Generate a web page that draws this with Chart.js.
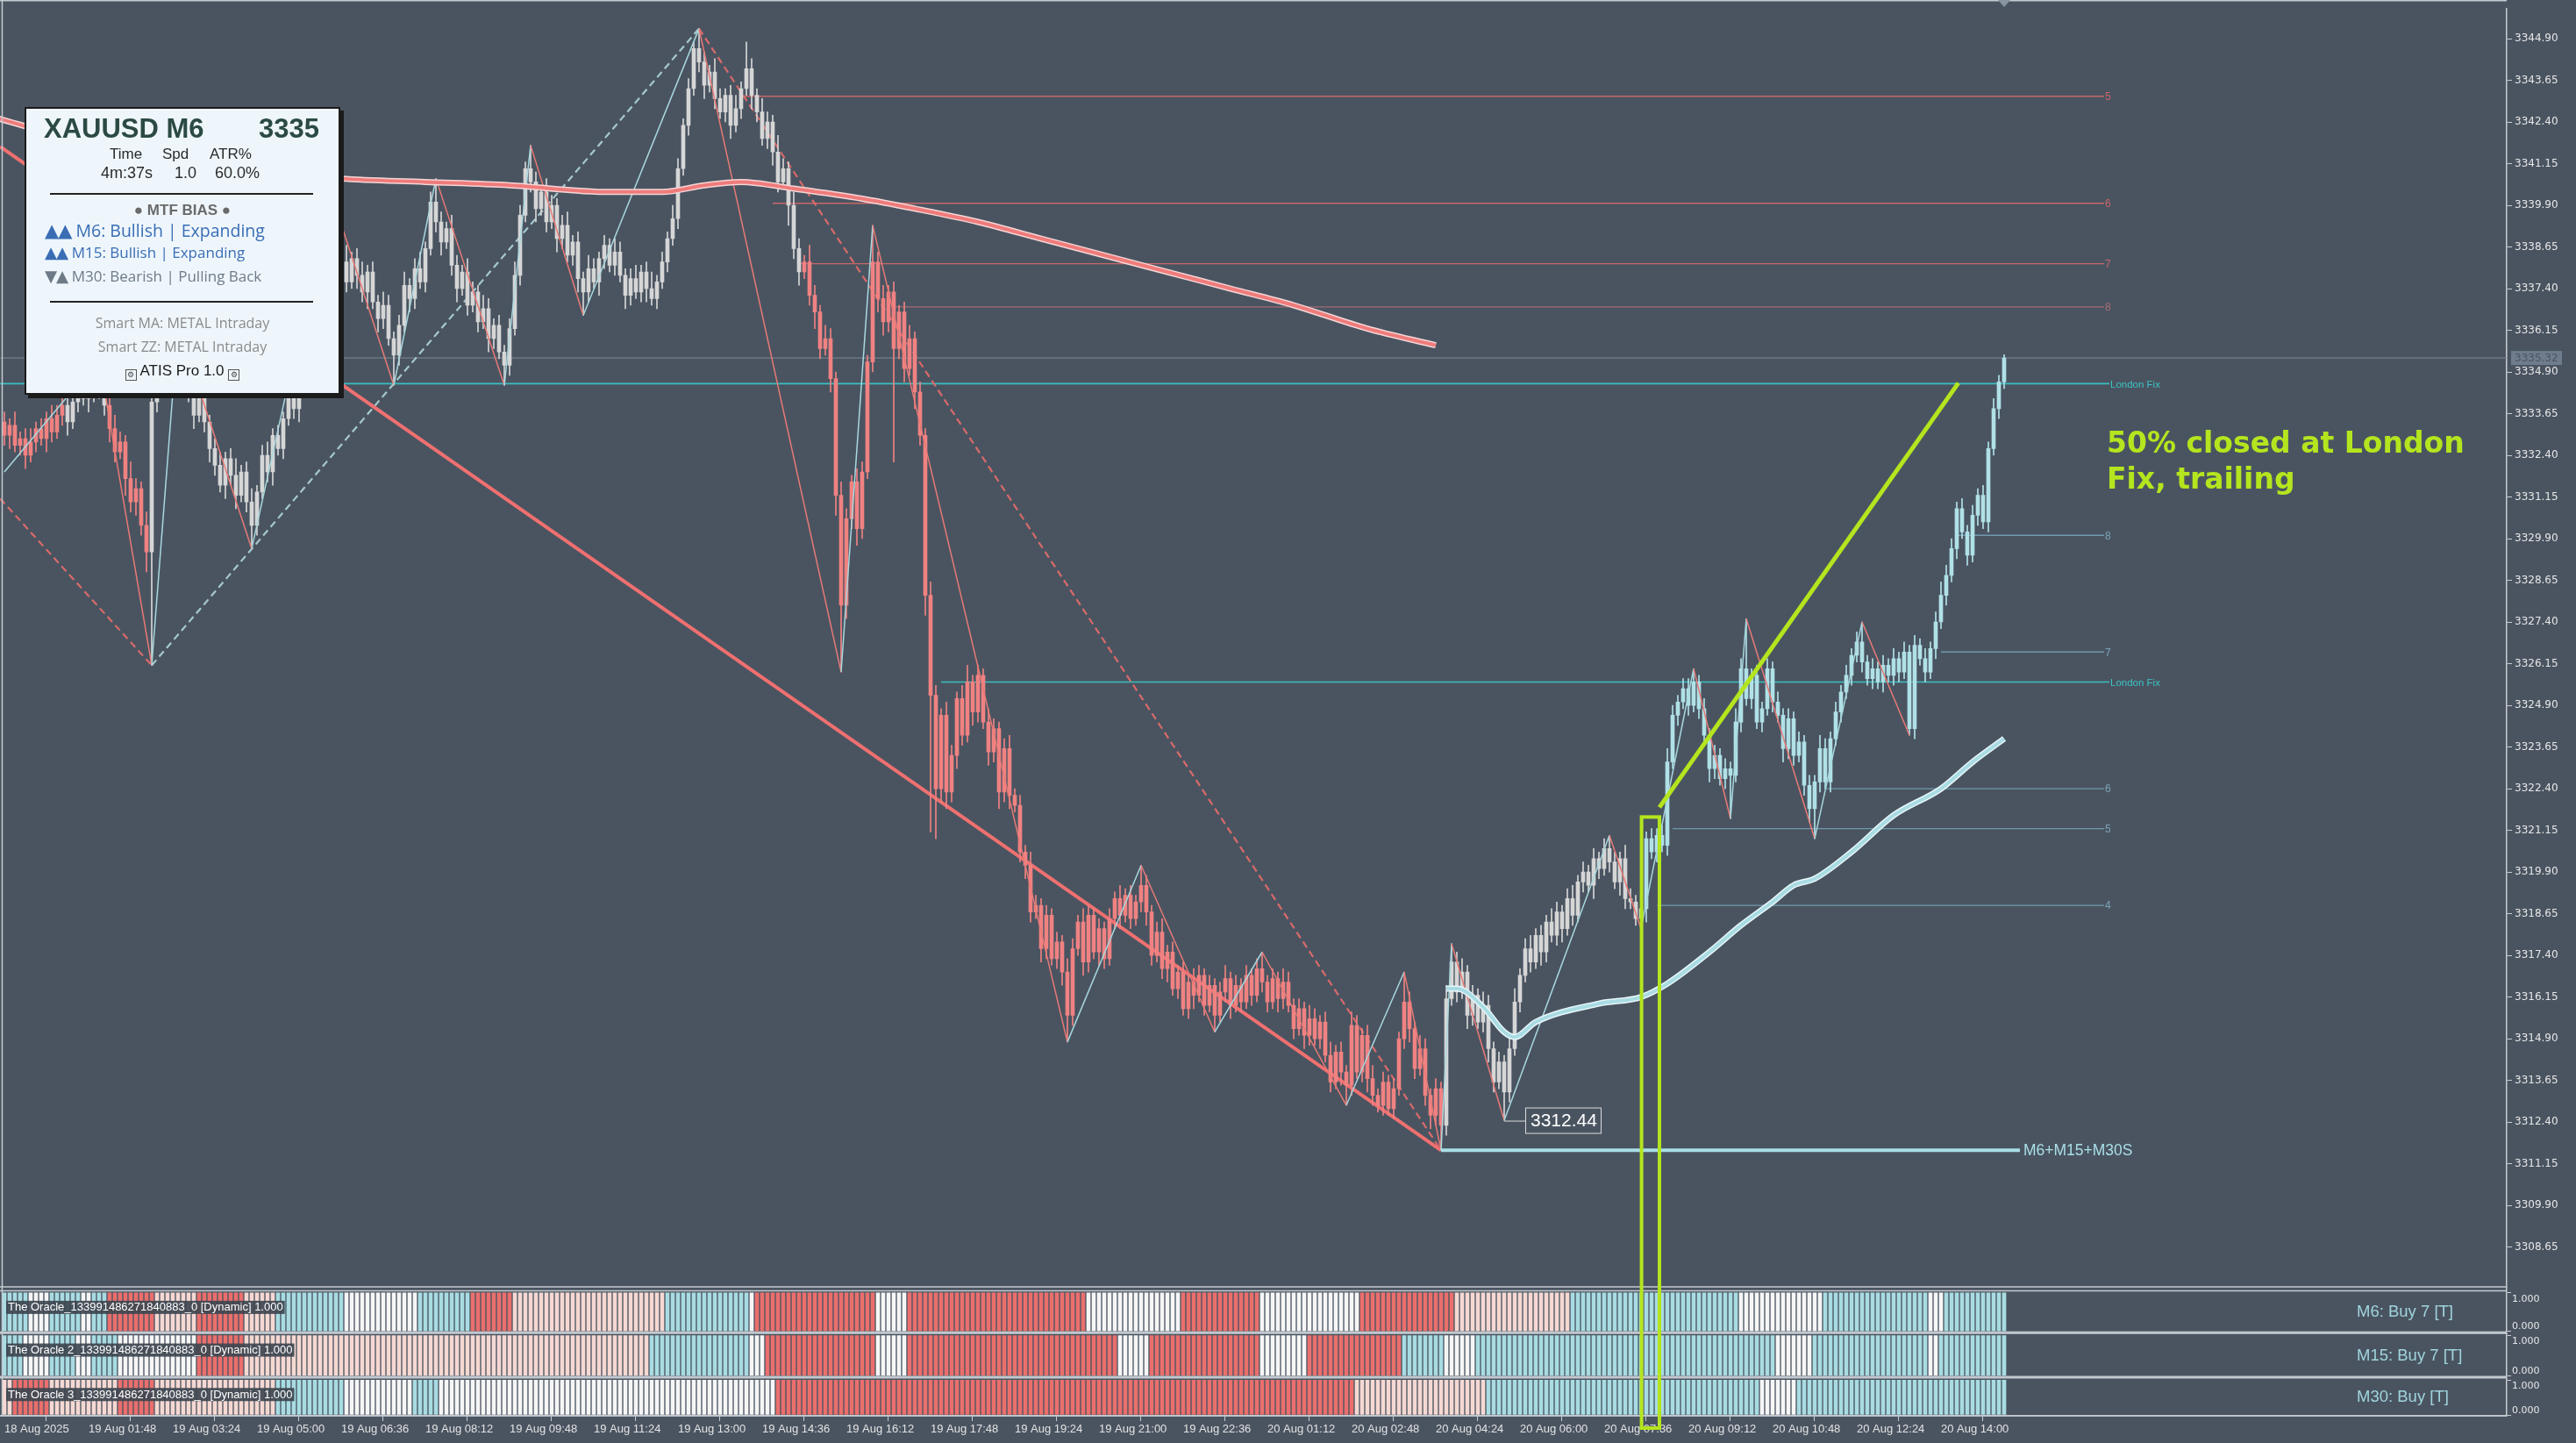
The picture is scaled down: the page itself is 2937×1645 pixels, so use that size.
<!DOCTYPE html>
<html>
<head>
<meta charset="utf-8">
<script src="https://cdn.jsdelivr.net/npm/chart.js@4.4.1/dist/chart.umd.min.js"></script>
<style>
  html, body { margin: 0; padding: 0; background: #4a5461; }
  #wrap { position: relative; width: 2937px; height: 1645px; overflow: hidden; background: #4a5461; }
  #myChart { position: absolute; left: 0; top: 0; }
  #info { position: absolute; left: 28px; top: 122px; width: 360px; height: 328px; box-sizing: border-box;
          background: #eef6fc; border: 2px solid #1b1b1b; box-shadow: 4px 4px 0 #1b1b1b;
          font-family: "Liberation Sans", Arial, sans-serif; }
  #info .ln { position: absolute; white-space: nowrap; line-height: 1; }
  #info .rule { position: absolute; left: 27px; width: 300px; height: 2px; background: #222; }
  #info .c { left: 0; width: 100%; text-align: center; }
  #info .os { font-family: "Open Sans", "Noto Sans", sans-serif; }
  #info .tri { font-family: "DejaVu Sans", sans-serif; font-size: 1.08em; letter-spacing: -1px; }
  .gear { display: inline-block; width: 11px; height: 11px; border: 1px solid #555; font-size: 9px; line-height: 11px;
          text-align: center; vertical-align: -2px; color: #444; }
  #note { position: absolute; left: 2402px; top: 484px; font-family: "DejaVu Sans", sans-serif; font-weight: bold;
          font-size: 33px; line-height: 41px; color: #b4e51e; white-space: nowrap; }
</style>
</head>
<body>
<div id="wrap">
<canvas id="myChart" width="2937" height="1645"></canvas>

<div id="info">
  <div class="ln" style="left:20px; top:7px; font-size:31px; font-weight:bold; color:#2c4a44;">XAUUSD M6</div>
  <div class="ln" style="right:22px; top:7px; font-size:31px; font-weight:bold; color:#2c4a44;">3335</div>
  <div class="ln" style="left:95px; top:43px; font-size:17px; color:#2a2a2a;">Time</div>
  <div class="ln" style="left:155px; top:43px; font-size:17px; color:#2a2a2a;">Spd</div>
  <div class="ln" style="left:209px; top:43px; font-size:17px; color:#2a2a2a;">ATR%</div>
  <div class="ln" style="left:85px; top:64px; font-size:18px; color:#2a2a2a;">4m:37s</div>
  <div class="ln" style="left:169px; top:64px; font-size:18px; color:#2a2a2a;">1.0</div>
  <div class="ln" style="left:215px; top:64px; font-size:18px; color:#2a2a2a;">60.0%</div>
  <div class="rule" style="top:96px;"></div>
  <div class="ln c" style="top:107px; font-size:17px; font-weight:bold; color:#6a6a6a;">&#9679; MTF BIAS &#9679;</div>
  <div class="ln os" style="left:21px; top:128px; font-size:19.5px; color:#3a6db4;"><span class="tri">&#9650;&#9650;</span> M6: Bullish | Expanding</div>
  <div class="ln os" style="left:21px; top:155px; font-size:17px; color:#3a6db4;"><span class="tri">&#9650;&#9650;</span> M15: Bullish | Expanding</div>
  <div class="ln os" style="left:21px; top:182px; font-size:17px; color:#6e7a86;"><span class="tri">&#9660;&#9650;</span> M30: Bearish | Pulling Back</div>
  <div class="rule" style="top:219px;"></div>
  <div class="ln c os" style="top:236px; font-size:16px; color:#8a8a8a;">Smart MA: METAL Intraday</div>
  <div class="ln c os" style="top:263px; font-size:16px; color:#8a8a8a;">Smart ZZ: METAL Intraday</div>
  <div class="ln c" style="top:290px; font-size:17px; color:#1a1a1a;"><span class="gear">&#9881;</span> ATIS Pro 1.0 <span class="gear">&#9881;</span></div>
</div>

<div id="note">50% closed at London<br>Fix, trailing</div>
</div>

<script>
// ---- data (bar index = one 6-minute candle) ----
const firstOpen = 3333.4;
const closes = [
  3333.0, 3333.3, 3332.7, 3332.9, 3332.4, 3332.8, 3333.2, 3332.9, 3333.5, 3333.1,
  3333.6, 3333.9, 3333.4, 3334.0, 3334.4, 3334.1, 3334.6, 3334.3, 3334.8, 3333.9,
  3333.2, 3332.5, 3332.8, 3331.7, 3331.0, 3331.4, 3330.3, 3329.5, 3334.0, 3334.6,
  3335.2, 3334.8, 3335.5, 3336.1, 3335.6, 3334.3, 3333.6, 3334.2, 3333.4, 3332.6,
  3332.1, 3331.5, 3332.3, 3331.8, 3331.2, 3331.9, 3331.0, 3330.3, 3331.3, 3332.4,
  3331.9, 3333.0, 3332.6, 3333.5, 3334.2, 3333.8, 3334.6, 3335.3, 3336.0, 3337.1,
  3338.4, 3339.5, 3339.9, 3338.7, 3338.2, 3337.6, 3338.3, 3337.8, 3337.3, 3337.9,
  3337.0, 3336.5, 3336.9, 3335.9, 3335.4, 3336.3, 3337.5, 3337.1, 3338.0, 3337.6,
  3338.6, 3340.0, 3339.4, 3338.8, 3339.2, 3338.1, 3337.4, 3337.9, 3336.9, 3337.3,
  3336.4, 3336.8, 3335.9, 3336.3, 3335.5, 3335.1, 3336.2, 3337.8, 3339.6, 3341.0,
  3340.6, 3339.8, 3340.3, 3339.4, 3339.9, 3338.9, 3339.3, 3338.4, 3338.8, 3337.7,
  3337.3, 3338.0, 3337.6, 3338.3, 3338.7, 3338.1, 3338.5, 3337.8, 3337.2, 3337.7,
  3337.3, 3337.9, 3337.4, 3337.1, 3337.6, 3338.2, 3338.9, 3339.5, 3341.0, 3342.3,
  3343.4, 3344.6, 3344.2, 3343.5, 3343.9, 3343.1, 3342.7, 3343.2, 3342.3, 3342.8,
  3343.4, 3344.0, 3343.2, 3342.7, 3341.9, 3342.4, 3341.5, 3340.6, 3341.0, 3339.9,
  3338.6, 3337.9, 3338.2, 3337.2, 3336.7, 3335.6, 3335.9, 3334.7, 3331.2, 3327.9,
  3330.5, 3331.6, 3330.2, 3331.9, 3335.2, 3338.2, 3337.1, 3336.4, 3337.3, 3335.6,
  3336.7, 3335.0, 3335.9, 3334.3, 3333.0, 3328.2, 3325.2, 3322.4, 3324.6, 3322.3,
  3323.4, 3325.1, 3324.0, 3325.6, 3324.7, 3325.8, 3324.4, 3323.5, 3324.2, 3322.3,
  3323.6, 3322.2, 3321.9, 3320.5, 3320.1, 3318.7, 3318.9, 3317.6, 3318.6, 3317.3,
  3317.8, 3316.9, 3315.6, 3317.6, 3318.4, 3317.2, 3318.6, 3317.5, 3318.2, 3317.3,
  3318.5, 3319.1, 3318.6, 3319.2, 3318.5, 3319.0, 3319.5, 3318.7, 3317.4, 3318.1,
  3317.0, 3317.5, 3316.4, 3316.9, 3315.8, 3316.6, 3316.2, 3316.8, 3315.9, 3316.5,
  3315.6, 3316.3, 3316.7, 3315.9, 3316.5, 3316.0, 3316.8, 3316.2, 3317.0, 3316.6,
  3316.0, 3316.7, 3316.1, 3316.6, 3315.9, 3315.2, 3315.8, 3315.0, 3315.5, 3314.9,
  3315.4, 3314.4, 3313.6, 3314.5, 3313.9, 3313.5, 3315.3, 3313.9, 3315.0, 3313.7,
  3313.2, 3312.9, 3313.6, 3312.8, 3313.4, 3314.9, 3316.0, 3315.2, 3314.0, 3314.6,
  3313.2, 3312.6, 3313.4, 3312.3, 3316.1, 3317.2, 3316.3, 3316.9, 3315.6, 3316.2,
  3315.4, 3315.9, 3314.6, 3313.6, 3314.2, 3313.3, 3314.6, 3316.0, 3316.8, 3317.6,
  3317.2, 3318.0, 3317.5, 3318.4, 3318.0, 3318.7, 3318.2, 3319.1, 3318.6, 3319.6,
  3319.9, 3319.5, 3320.3, 3320.0, 3320.6, 3320.2, 3319.6, 3320.3, 3319.1, 3319.0,
  3318.5, 3318.8, 3320.9, 3320.5, 3321.0, 3320.7, 3323.2, 3324.6, 3325.0, 3325.4,
  3324.9, 3325.6, 3324.8, 3324.0, 3323.0, 3323.4, 3322.7, 3323.0, 3322.8, 3324.4,
  3326.0, 3325.1, 3325.8, 3324.4, 3324.8, 3326.0, 3325.0, 3324.6, 3323.6, 3324.5,
  3323.4, 3323.8, 3322.5, 3321.8, 3322.6, 3323.6, 3322.6, 3323.9, 3324.7, 3325.3,
  3325.8, 3326.4, 3326.8, 3326.2, 3325.7, 3326.0, 3325.6, 3326.1, 3325.8, 3326.3,
  3325.9, 3326.5, 3324.2, 3326.7, 3326.3, 3325.9, 3326.6, 3327.4, 3328.2, 3328.8,
  3329.6, 3330.8, 3330.1, 3329.4, 3330.6, 3331.2, 3330.4, 3332.6, 3333.8, 3334.6,
  3335.32
];
const wickUp = [
  0.3,0.2,0.4,0.2,0.3,0.4,0.2,0.3,0.2,0.4, 0.3,0.2,0.4,0.3,0.2,0.3,0.2,0.3,0.5,0.3,
  0.2,0.4,0.3,0.2,0.5,0.3,0.2,0.4,0.3,0.4, 0.2,0.3,0.3,0.2,0.1,0.4,0.3,0.2,0.3,0.2,
  0.3,0.4,0.2,0.3,0.5,0.2,0.3,0.4,0.2,0.3, 0.4,0.2,0.3,0.2,0.4,0.3,0.2,0.3,0.4,0.2,
  0.3,0.3,0.4,0.2,0.3,0.5,0.2,0.3,0.4,0.2, 0.3,0.2,0.4,0.3,0.2,0.3,0.4,0.2,0.3,0.5,
  0.2,0.3,0.7,0.3,0.2,0.4,0.3,0.2,0.4,0.3, 0.2,0.4,0.3,0.2,0.3,0.2,0.3,0.4,0.3,0.2,
  0.7,0.3,0.2,0.4,0.3,0.2,0.3,0.4,0.2,0.3, 0.2,0.4,0.3,0.2,0.3,0.2,0.4,0.3,0.2,0.3,
  0.4,0.2,0.3,0.5,0.2,0.3,0.2,0.4,0.3,0.2, 0.3,0.2,0.6,0.3,0.2,0.4,0.3,0.2,0.3,0.4,
  0.2,0.8,0.3,0.2,0.4,0.3,0.2,0.5,0.3,0.2, 0.4,0.3,0.2,0.5,0.3,0.2,0.4,0.3,0.2,0.4,
  0.3,0.2,0.4,0.3,0.2,1.1,0.3,0.4,0.2,0.3, 0.2,0.3,0.4,0.2,0.3,0.2,0.4,0.3,0.2,0.4,
  0.3,0.2,0.4,0.5,0.2,0.3,0.2,0.4,0.3,0.2, 0.3,0.4,0.2,0.3,0.2,0.4,0.3,0.2,0.3,0.2,
  0.3,0.2,0.4,0.3,0.2,0.4,0.3,0.2,0.3,0.2, 0.3,0.2,0.4,0.2,0.3,0.2,0.6,0.3,0.2,0.3,
  0.4,0.2,0.3,0.2,0.3,0.2,0.4,0.3,0.2,0.3, 0.2,0.3,0.4,0.2,0.3,0.2,0.3,0.2,0.3,0.5,
  0.2,0.3,0.2,0.4,0.3,0.2,0.3,0.2,0.4,0.3, 0.2,0.3,0.4,0.2,0.3,0.2,0.4,0.3,0.2,0.3,
  0.4,0.2,0.3,0.2,0.3,0.2,0.9,0.3,0.2,0.4, 0.3,0.2,0.3,0.2,0.4,0.55,0.3,0.4,0.2,0.3,
  0.2,0.4,0.3,0.2,0.3,0.2,0.3,0.4,0.2,0.3, 0.4,0.2,0.3,0.2,0.4,0.3,0.2,0.3,0.4,0.2,
  0.3,0.2,0.3,0.2,0.3,0.4,0.3,0.2,0.4,0.3, 0.2,0.3,0.2,0.3,0.2,0.3,0.4,0.3,0.2,0.3,
  0.3,0.4,0.2,0.3,0.2,0.3,0.2,0.3,0.2,0.4, 0.3,1.5,0.2,0.3,0.2,0.3,0.2,0.3,0.2,0.3,
  0.2,0.3,0.2,0.3,0.2,0.4,0.3,0.2,0.3,0.2, 0.3,0.2,0.3,0.6,0.2,0.3,0.2,0.3,0.2,0.3,
  0.2,0.3,0.2,0.3,0.2,0.3,0.2,0.3,0.4,0.3, 0.3,0.2,0.3,0.2,0.3,0.2,0.3,0.2,0.3,0.2,
  0.1
];
const wickDn = [
  0.3,0.4,0.2,0.3,0.4,0.2,0.3,0.2,0.4,0.3, 0.2,0.3,0.4,0.2,0.3,0.2,0.4,0.3,0.2,0.3,
  0.4,0.3,0.2,0.5,0.3,0.4,0.3,0.6,3.4,0.3, 0.3,0.2,0.3,0.4,0.2,0.3,0.4,0.2,0.3,0.4,
  0.3,0.2,0.4,0.3,0.4,0.2,0.3,0.7,0.3,0.2, 0.3,0.4,0.2,0.3,0.2,0.3,0.4,0.2,0.3,0.2,
  0.3,0.2,0.3,0.4,0.6,0.3,0.2,0.4,0.3,0.5, 0.2,0.4,0.3,0.2,0.9,0.3,0.2,0.4,0.3,0.2,
  0.3,0.2,0.3,0.4,0.2,0.3,0.4,0.2,0.3,0.2, 0.3,0.2,0.4,0.3,0.2,0.6,0.3,0.2,0.3,0.2,
  0.3,0.4,0.2,0.3,0.2,0.4,0.3,0.2,0.3,0.4, 0.7,0.3,0.2,0.4,0.3,0.2,0.3,0.2,0.4,0.3,
  0.2,0.3,0.4,0.2,0.3,0.2,0.3,0.2,0.3,0.2, 0.3,0.2,0.3,0.4,0.2,0.3,0.2,0.3,0.4,0.2,
  0.3,0.2,0.4,0.3,0.2,0.3,0.4,0.3,0.2,0.6, 0.3,0.4,0.2,0.3,0.5,0.3,0.2,0.4,0.6,2.0,
  0.4,0.3,0.5,0.3,0.2,0.3,0.4,0.4,0.3,3.4, 0.3,0.4,0.2,0.5,0.3,0.6,4.1,1.5,0.4,0.5,
  0.3,0.4,0.3,0.2,0.4,0.3,0.2,0.4,0.3,0.5, 0.3,0.4,0.2,0.3,0.4,0.3,0.2,0.4,0.3,0.2,
  0.3,0.4,0.8,0.3,0.2,0.4,0.3,0.2,0.4,0.3, 0.2,0.3,0.4,0.2,0.3,0.2,0.3,0.4,0.3,0.2,
  0.3,0.4,0.2,0.3,0.2,0.3,0.4,0.2,0.3,0.2, 0.5,0.2,0.3,0.4,0.2,0.3,0.2,0.3,0.2,0.3,
  0.3,0.2,0.4,0.3,0.2,0.3,0.2,0.4,0.3,0.2, 0.3,0.2,0.3,0.2,0.4,0.6,0.3,0.2,0.3,0.4,
  0.3,0.2,0.3,0.2,0.3,0.2,0.3,0.4,0.3,0.2, 0.3,0.4,0.3,0.75,0.3,0.2,0.3,0.2,0.4,0.3,
  0.2,0.3,0.4,0.3,0.2,0.85,0.3,0.2,0.3,0.2, 0.3,0.2,0.4,0.3,0.2,0.3,0.4,0.2,0.3,0.2,
  0.3,0.2,0.4,0.3,0.2,0.3,0.2,0.4,0.3,0.2, 0.2,0.3,0.4,0.2,0.3,0.2,0.3,0.2,0.3,0.2,
  0.3,0.2,0.3,0.2,0.4,0.3,0.2,0.3,1.3,0.2, 0.3,0.2,0.3,0.2,0.3,0.2,0.3,0.2,0.4,0.3,
  0.3,0.2,0.3,0.4,0.9,0.3,0.2,0.3,0.2,0.3, 0.2,0.3,0.2,0.3,0.2,0.3,0.2,0.3,0.2,0.3,
  0.3,0.2,0.2,0.3,0.2,0.3,0.2,0.3,0.2,0.3, 0.2,0.3,0.2,0.3,0.2,0.3,0.2,0.3,0.2,0.3,
  0.2
];
// candle colour regime: R red, W grey, B light blue  [count, code]
const candleRuns = [[12,'R'],[8,'W'],[8,'R'],[124,'W'],[122,'R'],[38,'W'],[69,'B']];
// indicator panels: R red, P pale, W white, B blue
const oracle1Runs = [[5,'B'],[4,'W'],[6,'B'],[2,'W'],[3,'B'],[9,'R'],[8,'P'],[9,'R'],[6,'P'],[13,'B'],[14,'W'],[10,'B'],
  [8,'R'],[29,'P'],[16,'B'],[1,'W'],[23,'R'],[6,'W'],[34,'R'],[18,'W'],[15,'R'],[19,'W'],[18,'R'],[22,'P'],[32,'B'],
  [16,'W'],[20,'B'],[3,'W'],[12,'B']];
const oracle2Runs = [[4,'B'],[5,'W'],[5,'B'],[3,'W'],[5,'B'],[15,'W'],[9,'R'],[77,'P'],[19,'B'],[3,'W'],[21,'R'],[6,'W'],
  [40,'R'],[6,'W'],[21,'R'],[9,'W'],[18,'R'],[8,'B'],[6,'W'],[9,'B'],[48,'B'],[7,'W'],[22,'B'],[2,'W'],[13,'B']];
const oracle3Runs = [[2,'P'],[7,'R'],[13,'P'],[7,'R'],[23,'P'],[13,'B'],[13,'W'],[5,'B'],[64,'W'],[110,'R'],[25,'P'],
  [52,'B'],[7,'W'],[40,'B']];
const oracleNames = ['The Oracle_133991486271840883_0 [Dynamic] 1.000', 'The Oracle 2_133991486271840883_0 [Dynamic] 1.000',
  'The Oracle 3_133991486271840883_0 [Dynamic] 1.000'];
const oracleSignals = ['M6: Buy 7 [T]', 'M15: Buy 7 [T]', 'M30: Buy [T]'];
const paneTickLabels = ['1.000', '0.000'];

const timeLabels = ['18 Aug 2025','19 Aug 01:48','19 Aug 03:24','19 Aug 05:00','19 Aug 06:36','19 Aug 08:12',
  '19 Aug 09:48','19 Aug 11:24','19 Aug 13:00','19 Aug 14:36','19 Aug 16:12','19 Aug 17:48','19 Aug 19:24',
  '19 Aug 21:00','19 Aug 22:36','20 Aug 01:12','20 Aug 02:48','20 Aug 04:24','20 Aug 06:00','20 Aug 07:36',
  '20 Aug 09:12','20 Aug 10:48','20 Aug 12:24','20 Aug 14:00'];
const priceTicks = [3308.65, 3309.90, 3311.15, 3312.40, 3313.65, 3314.90, 3316.15, 3317.40, 3318.65, 3319.90,
  3321.15, 3322.40, 3323.65, 3324.90, 3326.15, 3327.40, 3328.65, 3329.90, 3331.15, 3332.40, 3333.65, 3334.90,
  3336.15, 3337.40, 3338.65, 3339.90, 3341.15, 3342.40, 3343.65, 3344.90];

// zigzag pivots [bar, price]
const zzPivots = [[0,3331.9],[18,3335.3],[28,3326.1],[33,3336.3],[47,3329.6],[62,3340.3],[74,3334.5],[82,3340.7],
  [95,3334.5],[100,3341.7],[110,3336.6],[132,3345.2],[159,3325.9],[165,3339.3],[202,3314.8],[216,3320.1],
  [230,3315.1],[239,3317.5],[255,3312.9],[266,3316.9],[273,3311.55],[275,3317.75],[285,3312.45],[305,3321.0],
  [311,3318.2],[321,3326.0],[328,3321.5],[331,3327.5],[344,3320.9],[353,3327.4],[362,3324.0]];
const zzSlowPivots = [[-0.8,3331.1],[28,3326.1],[132,3345.2],[273,3311.55]];
const trendLine = [[-0.8,3341.66],[273,3311.55]];
const redMA = [[-1,3342.5],[10,3342.0],[25,3341.4],[45,3341.0],[64,3340.7],[80,3340.6],[96,3340.5],[115,3340.3],
  [125,3340.3],[133,3340.5],[140,3340.6],[150,3340.4],[163,3340.1],[173,3339.8],[185,3339.4],[197,3338.9],
  [209,3338.4],[221,3337.9],[233,3337.4],[245,3336.9],[259,3336.2],[272,3335.7]];
const blueMA = [[274,3316.4],[276,3316.4],[281,3315.85],[285,3315.1],[287,3314.95],[291,3315.4],[303,3315.95],
  [311,3316.15],[316,3316.55],[324,3317.5],[330,3318.3],[336,3319.0],[340,3319.5],[344,3319.7],[351,3320.5],
  [359,3321.6],[368,3322.4],[374,3323.2],[380,3323.9]];

// horizontal levels [price, first bar]
const redLevels = [[3343.17,140],[3339.96,146],[3338.15,151],[3336.85,169]];
const redLevelNames = ['5','6','7','8'];
const blueLevels = [[3330.0,371],[3326.5,368],[3322.4,346],[3321.2,317],[3318.9,314]];
const blueLevelNames = ['8','7','6','5','4'];
const londonFix = [[3334.55,-0.83],[3325.6,178]];
const levelEnd = 399;
const lastPrice = 3335.32;
const sweepLine = [[273,3311.55],[383,3311.55]];
const swingLow = [285, 3312.44];
const tradeLine = [[314.5,3321.84],[371.3,3334.57]];
const entryBox = [311.1, 314.5, 3321.55];

// ---- build ----
const expandRuns = runs => { let out = []; runs.forEach(r => { for (let k = 0; k < r[0]; k++) out.push(r[1]); }); return out; };
const candleCol = { R: '#f08282', W: '#d6d6d6', B: '#b0e1e7' };
const oracleCol = { R: '#ea6f6d', P: '#f6d8d2', W: '#f6f6f6', B: '#a8dce2' };
const candleCodes = expandRuns(candleRuns);
const opens = closes.map((c, i) => i ? closes[i - 1] : firstOpen);

const bodies = closes.map((c, i) => ({ x: i, y: [opens[i], c] }));
const wicks = closes.map((c, i) => ({ x: i, y: [Math.min(opens[i], c) - wickDn[i], Math.max(opens[i], c) + wickUp[i]] }));
const barColors = candleCodes.map(k => candleCol[k]);
const pts = arr => arr.map(p => ({ x: p[0], y: p[1] }));

const lineDs = (data, color, width, order, extra) => Object.assign({
  type: 'line', data: data, borderColor: color, borderWidth: width, pointRadius: 0, tension: 0,
  fill: false, yAxisID: 'y', order: order
}, extra || {});

let datasets = [];
datasets.push(lineDs(pts([[-0.83, lastPrice], [475.5, lastPrice]]), '#7f8b97', 1, 30));
redLevels.forEach((l, k) => datasets.push(lineDs(pts([[l[1], l[0]], [levelEnd, l[0]]]), k == 3 ? '#a06a72' : '#c86666', 1.3, 29)));
blueLevels.forEach(l => datasets.push(lineDs(pts([[l[1], l[0]], [levelEnd, l[0]]]), '#6f98ad', 1.3, 29)));
londonFix.forEach(l => datasets.push(lineDs(pts([[l[1], l[0]], [levelEnd + 1, l[0]]]), '#3bbfc0', 1.6, 29)));
datasets.push(lineDs(pts(zzSlowPivots), '#d86a6a', 2.2, 28, {
  borderDash: [8, 5],
  segment: { borderColor: c => c.p1.parsed.y > c.p0.parsed.y ? '#a5c9cd' : '#d86a6a' }
}));
datasets.push(lineDs(pts(trendLine), '#f07070', 4, 27));

[oracle1Runs, oracle2Runs, oracle3Runs].forEach((runs, k) => {
  datasets.push({
    type: 'bar', yAxisID: 'o' + (k + 1), order: 26, grouped: false, barThickness: 4, borderWidth: 0,
    data: closes.map((c, i) => ({ x: i, y: [0, 1] })),
    backgroundColor: expandRuns(runs).map(c => oracleCol[c])
  });
});

datasets.push({ type: 'bar', yAxisID: 'y', order: 25, grouped: false, barThickness: 1, borderWidth: 0, data: wicks, backgroundColor: barColors });
datasets.push({ type: 'bar', yAxisID: 'y', order: 24, grouped: false, barThickness: 4, borderWidth: 0, minBarLength: 1, data: bodies, backgroundColor: barColors });

datasets.push(lineDs(pts(zzPivots), '#e87a76', 1.5, 20, {
  segment: { borderColor: c => c.p1.parsed.y > c.p0.parsed.y ? '#a8d8de' : '#e87a76' }
}));
datasets.push(lineDs(pts(redMA), '#f5d6d6', 7, 15, { cubicInterpolationMode: 'monotone' }));
datasets.push(lineDs(pts(redMA), '#ef7b7b', 4, 14, { cubicInterpolationMode: 'monotone' }));
datasets.push(lineDs(pts(blueMA), '#e6f6f8', 7, 15, { cubicInterpolationMode: 'monotone' }));
datasets.push(lineDs(pts(blueMA), '#a9dbe3', 4, 14, { cubicInterpolationMode: 'monotone' }));
datasets.push(lineDs(pts(sweepLine), '#a9dfe6', 4, 10));
datasets.push(lineDs(pts(tradeLine), '#b4e51e', 5, 5));

const lime = '#b4e51e';
const narrow = '"Liberation Sans Narrow", "Liberation Sans"';
const overlay = {
  id: 'overlay',
  afterDraw(chart) {
    const ctx = chart.ctx, xs = chart.scales.x, ys = chart.scales.y, area = chart.chartArea;
    const X = v => xs.getPixelForValue(v), Y = v => ys.getPixelForValue(v);
    ctx.save();
    // pane frames
    ctx.strokeStyle = '#c3c9cf'; ctx.lineWidth = 1.5;
    ctx.beginPath();
    ctx.moveTo(0, 0.75); ctx.lineTo(area.right, 0.75);
    ctx.moveTo(2.5, 0); ctx.lineTo(2.5, area.bottom);
    ctx.moveTo(0, ys.bottom - 1); ctx.lineTo(area.right, ys.bottom - 1);
    ['o1', 'o2', 'o3'].forEach(id => {
      const s = chart.scales[id];
      ctx.moveTo(0, s.getPixelForValue(1) - 2.5); ctx.lineTo(area.right, s.getPixelForValue(1) - 2.5);
      ctx.moveTo(0, s.getPixelForValue(0) + 1); ctx.lineTo(area.right, s.getPixelForValue(0) + 1);
    });
    ctx.stroke();

    // level labels
    ctx.textBaseline = 'middle'; ctx.textAlign = 'left';
    ctx.font = '12px "Liberation Sans"';
    redLevels.forEach((l, k) => { ctx.fillStyle = k == 3 ? '#a86f78' : '#c86666'; ctx.fillText(redLevelNames[k], X(levelEnd) + 1, Y(l[0]) + 1); });
    blueLevels.forEach((l, k) => { ctx.fillStyle = '#7ba3b7'; ctx.fillText(blueLevelNames[k], X(levelEnd) + 1, Y(l[0]) + 1); });
    ctx.font = '11.5px "Liberation Sans"'; ctx.fillStyle = '#3cc2c2';
    londonFix.forEach(l => ctx.fillText('London Fix', X(levelEnd + 1) + 1, Y(l[0]) + 1));

    // sweep label
    ctx.font = '17.5px ' + narrow; ctx.fillStyle = '#a9dfe6';
    ctx.fillText('M6+M15+M30S', X(sweepLine[1][0]) + 4, Y(sweepLine[1][1]) + 1);

    // swing low label
    const sx = X(swingLow[0]), sy = Y(swingLow[1]);
    ctx.strokeStyle = '#dcdcdc'; ctx.lineWidth = 1;
    ctx.beginPath(); ctx.moveTo(sx, sy + 0.5); ctx.lineTo(sx + 24, sy + 0.5); ctx.stroke();
    ctx.strokeRect(sx + 24.5, sy - 14.5, 86, 29);
    ctx.fillStyle = '#ffffff'; ctx.font = '21px ' + narrow;
    ctx.fillText(swingLow[1].toFixed(2), sx + 30, sy + 1);

    // indicator captions and pane scale labels
    ['o1', 'o2', 'o3'].forEach((id, k) => {
      const s = chart.scales[id];
      const top = s.getPixelForValue(1), bot = s.getPixelForValue(0), mid = (top + bot) / 2;
      ctx.font = '13px ' + narrow;
      const w = ctx.measureText(oracleNames[k]).width;
      ctx.fillStyle = 'rgba(62,70,80,0.92)';
      ctx.fillRect(7, top + 9, w + 4, 15);
      ctx.fillStyle = '#ffffff'; ctx.textBaseline = 'middle';
      ctx.fillText(oracleNames[k], 9, top + 17);
      ctx.font = '18.5px ' + narrow; ctx.fillStyle = '#9fd4dc';
      ctx.fillText(oracleSignals[k], 2687, mid);
      ctx.font = '11px "DejaVu Sans"'; ctx.fillStyle = '#e6e6e6';
      ctx.fillText(paneTickLabels[0], s.left + 6, top + 7);
      ctx.fillText(paneTickLabels[1], s.left + 6, bot - 5);
    });

    // entry box + bid marker
    ctx.strokeStyle = lime; ctx.lineWidth = 4;
    const bx0 = X(entryBox[0]), bx1 = X(entryBox[1]), by = Y(entryBox[2]);
    ctx.strokeRect(bx0, by, bx1 - bx0, area.bottom + 14 - by);

    ctx.fillStyle = '#8894a0';
    ctx.beginPath(); ctx.moveTo(X(380) - 7, 0); ctx.lineTo(X(380) + 7, 0); ctx.lineTo(X(380), 8); ctx.closePath(); ctx.fill();

    // last price tag on axis
    const py = Y(lastPrice);
    ctx.fillStyle = '#6e7c8b'; ctx.fillRect(area.right + 5, py - 8, 58, 16);
    ctx.fillStyle = '#4b5562'; ctx.font = '12px "DejaVu Sans"'; ctx.textAlign = 'left';
    ctx.fillText(lastPrice.toFixed(2), area.right + 9, py + 1);
    ctx.restore();
  }
};

const axisFont = { family: '"DejaVu Sans", sans-serif', size: 12 };
const paneAxis = (weight, min, max, w) => ({
  type: 'linear', position: 'right', stack: 'pane', stackWeight: weight, weight: w, min: min, max: max,
  grid: { drawOnChartArea: false, drawTicks: true, tickLength: 5, color: '#c8ccd0' },
  border: { display: true, color: '#c8ccd0', width: 1.5 },
  ticks: { display: false },
  afterBuildTicks: s => { s.ticks = [{ value: 0 }, { value: 1 }]; },
  afterFit: s => { s.width = 79; }
});

new Chart(document.getElementById('myChart'), {
  type: 'bar',
  data: { datasets: datasets },
  plugins: [overlay],
  options: {
    responsive: false, animation: false, events: [],
    layout: { padding: 0 },
    plugins: { legend: { display: false }, tooltip: { enabled: false } },
    scales: {
      x: {
        type: 'linear', min: -0.83, max: 475.5, offset: false,
        grid: { drawOnChartArea: false, drawTicks: true, tickLength: 6, color: '#c8ccd0' },
        border: { display: true, color: '#c8ccd0', width: 1.5 },
        ticks: { align: 'start', maxRotation: 0, autoSkip: false, color: '#e2e2e2', padding: 2,
                 font: { family: '"Liberation Sans Narrow", "Liberation Sans", sans-serif', size: 13 },
                 callback: v => timeLabels[Math.round(v / 16)] || '' },
        afterBuildTicks: s => { s.ticks = timeLabels.map((t, k) => ({ value: k * 16 })); },
        afterFit: s => { s.height = 31; }
      },
      y: {
        type: 'linear', position: 'right', stack: 'pane', stackWeight: 1467, weight: 1,
        min: 3307.43, max: 3345.79,
        grid: { drawOnChartArea: false, drawTicks: true, tickLength: 6, color: '#c8ccd0' },
        border: { display: true, color: '#c8ccd0', width: 1.5 },
        ticks: { color: '#e6e6e6', font: axisFont, padding: 3, autoSkip: false, callback: v => v.toFixed(2) },
        afterBuildTicks: s => { s.ticks = priceTicks.map(v => ({ value: v })); },
        afterFit: s => { s.width = 79; }
      },
      o1: paneAxis(53, -0.068, 1.136, 2),
      o2: paneAxis(51, -0.065, 1.043, 3),
      o3: paneAxis(43, -0.025, 1.05, 4)
    }
  }
});
</script>
</body>
</html>
